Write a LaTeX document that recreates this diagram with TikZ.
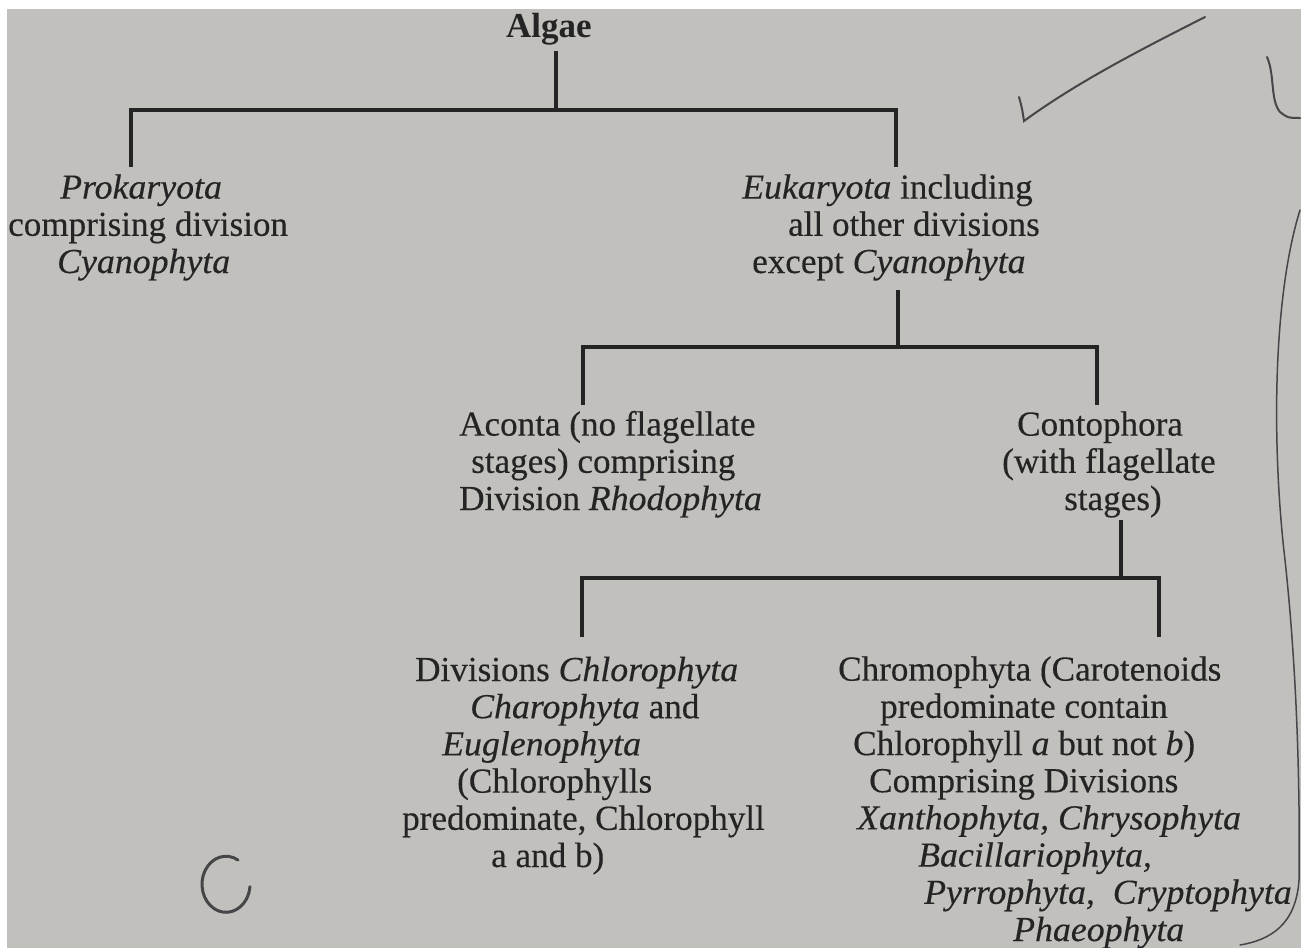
\documentclass[tikz,border=0pt]{standalone}
\usepackage{fontspec}
\setmainfont{Liberation Serif}[UprightFeatures={FakeBold=0.3}, ItalicFeatures={FakeBold=0.3, FakeStretch=1.02}]
\definecolor{bgc}{RGB}{194,192,189}
\definecolor{ink}{RGB}{36,36,36}
\definecolor{pencilc}{RGB}{70,70,72}
\begin{document}
\begin{tikzpicture}[x=1pt,y=-1pt,
  blk/.style={align=left, inner sep=0pt, anchor=base west, text=ink, font=\fontsize{35.1}{37.2}\selectfont},
  conn/.style={draw=ink, line width=3.5pt, line join=miter},
  pencil/.style={draw=pencilc, line width=2pt, line cap=round}]
\useasboundingbox (0,0) rectangle (1307,948);
\fill[white] (0,0) rectangle (1307,948);
\fill[bgc] (7,9) rectangle (1301,948);

% nodes (anchor = baseline of the last line)
\node[blk, font=\fontsize{35}{37.2}\selectfont\bfseries] (algae) at (506,37) {Algae};
\node[blk] (prok) at (8,273) {\hspace*{52pt}\textit{Prokaryota}\\comprising division\\\hspace*{49pt}\textit{Cyanophyta}};
\node[blk] (euk) at (742,273) {\textit{Eukaryota} including\\\hspace*{46pt}all other divisions\\\hspace*{10pt}except \textit{Cyanophyta}};
\node[blk] (aco) at (459,510) {Aconta (no flagellate\\\hspace*{12pt}stages) comprising\\Division \textit{Rhodophyta}};
\node[blk] (con) at (1002,510) {\hspace*{15pt}Contophora\\(with flagellate\\\hspace*{62pt}stages)};
\node[blk] (div) at (402,867) {\hspace*{13pt}Divisions \textit{Chlorophyta}\\\hspace*{68pt}\textit{Charophyta} and\\\hspace*{40pt}\textit{Euglenophyta}\\\hspace*{55pt}(Chlorophylls\\predominate, Chlorophyll\\\hspace*{89pt}a and b)};
\node[blk] (chr) at (838,941) {Chromophyta (Carotenoids\\\hspace*{42pt}predominate contain\\\hspace*{15pt}Chlorophyll \textit{a} but not \textit{b})\\\hspace*{31pt}Comprising Divisions\\\hspace*{19pt}\textit{Xanthophyta, Chrysophyta}\\\hspace*{80pt}\textit{Bacillariophyta,}\\\hspace*{86pt}\textit{Pyrrophyta,\ \ Cryptophyta}\\\hspace*{175pt}\textit{Phaeophyta}};

% connector points
\coordinate (algaeS) at (556,51);
\coordinate (j1) at (556,110);
\coordinate (prokN) at (131,167);
\coordinate (eukN) at (896,167);
\coordinate (eukS) at (898,290);
\coordinate (j2) at (898,347);
\coordinate (acoN) at (583,405);
\coordinate (conN) at (1097,405);
\coordinate (conS) at (1121,520);
\coordinate (j3) at (1121,578);
\coordinate (divN) at (582,637);
\coordinate (chrN) at (1159,637);

\draw[conn] (algaeS) -- (j1);
\draw[conn] (prokN) |- (j1) -| (eukN);
\draw[conn] (eukS) -- (j2);
\draw[conn] (acoN) |- (j2) -| (conN);
\draw[conn] (conS) -- (j3);
\draw[conn] (divN) |- (j3) -| (chrN);

% pencil marks
\draw[pencil] (1019,97) .. controls (1022,108) .. (1024,121) .. controls (1080,80) and (1150,45) .. (1205,17);
\draw[pencil] (1267,57) .. controls (1275,75) and (1270,100) .. (1280,112) .. controls (1288,118) .. (1300,118);
\draw[pencil, line width=1.5pt] (1300,210) .. controls (1272,300) and (1272,450) .. (1285,560) .. controls (1298,680) and (1300,800) .. (1299,880) .. controls (1296,925) and (1270,940) .. (1240,945);
\draw[pencil, line width=3pt] (238,860) arc[start angle=60, end angle=355, x radius=24pt, y radius=28pt];
\end{tikzpicture}
\end{document}
